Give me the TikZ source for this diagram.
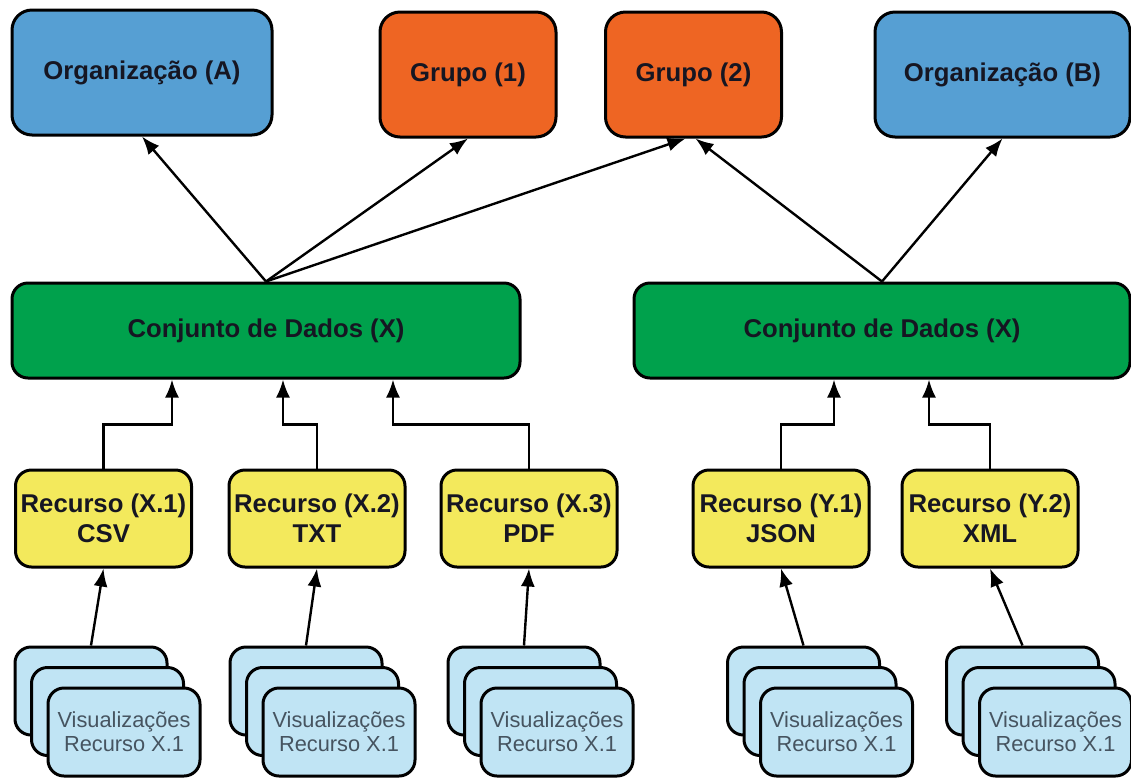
\documentclass[tikz,border=0pt]{standalone}
\usepackage{fontspec}
\setmainfont{Liberation Sans}
\usepackage{xcolor}
\usepackage{tikz}
\usetikzlibrary{arrows.meta}

\definecolor{azulorg}{RGB}{86,159,211}
\definecolor{laranja}{RGB}{238,101,35}
\definecolor{verde}{RGB}{0,161,76}
\definecolor{amarelo}{RGB}{243,233,92}
\definecolor{azulclaro}{RGB}{192,228,244}
\definecolor{textoesc}{RGB}{22,22,34}
\definecolor{cinza}{RGB}{70,84,96}

\begin{document}
\begin{tikzpicture}[x=0.5pt,y=-0.5pt,
  caixa/.style={draw=black,line width=1.5pt,align=center,text=textoesc,
    font=\fontsize{12.85}{15}\selectfont\bfseries},
  org/.style={caixa,fill=azulorg,rounded corners=10pt,minimum width=130pt,minimum height=62.5pt},
  grupo/.style={caixa,fill=laranja,rounded corners=10pt,minimum width=88pt,minimum height=62.5pt},
  conj/.style={caixa,fill=verde,rounded corners=8pt,minimum height=47.5pt},
  recurso/.style={caixa,fill=amarelo,rounded corners=8pt,inner sep=1pt,minimum width=88pt,minimum height=48.5pt},
  vis/.style={draw=black,line width=1.5pt,fill=azulclaro,rounded corners=8pt,align=center,text=cinza,
    minimum width=76pt,minimum height=44pt,font=\fontsize{10.9}{12}\selectfont},
  seta/.style={line width=1.2pt,-{Latex[length=9pt,width=7pt]}}]

\useasboundingbox (0,0) rectangle (1131,778);

\node [org] (orgA) at (142,72.5) {Organização (A)};
\node [grupo] (grp1) at (468,74.5) {Grupo (1)};
\node [grupo] (grp2) at (693.5,74.5) {Grupo (2)};
\node [org,minimum width=127.5pt] (orgB) at (1002.5,74.5) {Organização (B)};

\node [conj,minimum width=254pt] (cjX) at (266,330.5) {Conjunto de Dados (X)};
\node [conj,minimum width=248pt] (cjY) at (882,330.5) {Conjunto de Dados (X)};

\node [recurso] (rX1) at (103.5,518.5) {Recurso (X.1)\\CSV};
\node [recurso] (rX2) at (317,518.5) {Recurso (X.2)\\TXT};
\node [recurso] (rX3) at (529,518.5) {Recurso (X.3)\\PDF};
\node [recurso] (rY1) at (781,518.5) {Recurso (Y.1)\\JSON};
\node [recurso] (rY2) at (990,518.5) {Recurso (Y.2)\\XML};

\foreach \i/\x/\r in {1/91/rX1,2/306/rX2,3/524/rX3,4/803.5/rY1,5/1022.5/rY2}{
  \node [vis] (v\i-a) at (\x,691) {};
  \node [vis] (v\i-b) at (\x+16.5,711.5) {};
  \node [vis] (v\i-c) at (\x+33,732) {Visualizações\\Recurso X.1};
  \draw [seta] (v\i-a.north) -- (\r.south);
}

\draw [seta] (rX1.north) |- ([xshift=-47pt,yshift=-22.5pt]cjX.south) -- ([xshift=-47pt]cjX.south);
\draw [seta] (rX2.north) |- ([xshift=8.5pt,yshift=-22.5pt]cjX.south) -- ([xshift=8.5pt]cjX.south);
\draw [seta] (rX3.north) |- ([xshift=63.5pt,yshift=-22.5pt]cjX.south) -- ([xshift=63.5pt]cjX.south);
\draw [seta] (rY1.north) |- ([xshift=-24pt,yshift=-22.5pt]cjY.south) -- ([xshift=-24pt]cjY.south);
\draw [seta] (rY2.north) |- ([xshift=23.5pt,yshift=-22.5pt]cjY.south) -- ([xshift=23.5pt]cjY.south);

\draw [seta] (cjX.north) -- (orgA.south);
\draw [seta] (cjX.north) -- (grp1.south);
\draw [seta] (cjX.north) -- ([xshift=-4pt]grp2.south);
\draw [seta] (cjY.north) -- ([xshift=1pt]grp2.south);
\draw [seta] (cjY.north) -- (orgB.south);

\end{tikzpicture}
\end{document}
